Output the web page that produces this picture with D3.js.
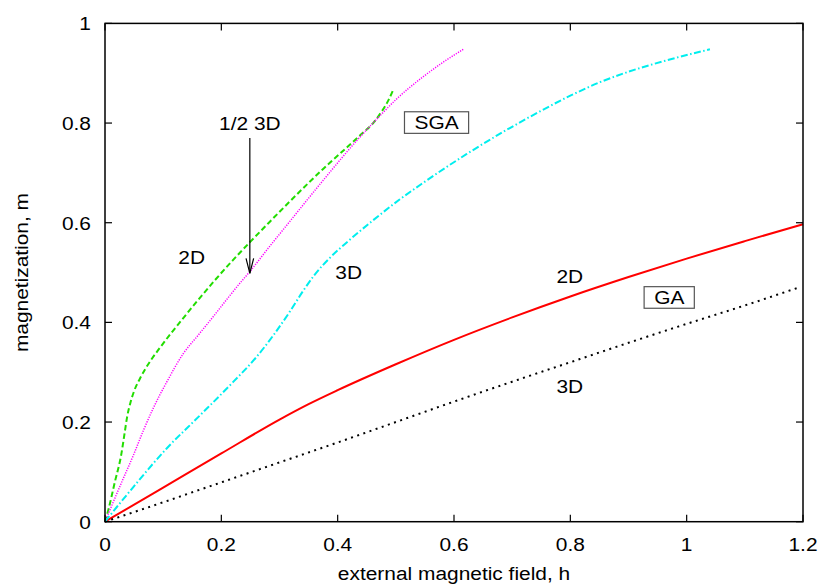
<!DOCTYPE html>
<html>
<head>
<meta charset="utf-8">
<script src="https://cdn.jsdelivr.net/npm/d3@7"></script>
<style>
  html, body { margin: 0; padding: 0; background: #fff; }
  svg { display: block; }
  text { font-family: "Liberation Sans", Arial, Helvetica, sans-serif; fill: #000; }
</style>
</head>
<body>
<svg id="chart" width="824" height="587"></svg>
<script>
// Magnetization curves m(h): [h, m] pairs
const gaTwoD = [[0,0],[0.1,0.0685],[0.2,0.137],[0.3,0.205],[0.35,0.236],[0.4,0.264],[0.5,0.316],[0.6,0.365],[0.7,0.410],[0.8,0.452],[0.9,0.491],[1.0,0.528],[1.1,0.563],[1.2,0.597]];
const gaThreeD = [[0,0],[0.1,0.039],[0.2,0.079],[0.3,0.119],[0.4,0.159],[0.5,0.200],[0.6,0.241],[0.7,0.281],[0.8,0.320],[0.9,0.359],[1.0,0.397],[1.1,0.434],[1.19,0.469]];
const sgaTwoD = [[0,0],[0.006,0.025],[0.017,0.08],[0.028,0.135],[0.034,0.18],[0.038,0.21],[0.044,0.24],[0.05,0.262],[0.06,0.287],[0.07,0.308],[0.08,0.326],[0.095,0.35],[0.11,0.373],[0.13,0.402],[0.158,0.442],[0.19,0.486],[0.22,0.525],[0.25,0.562],[0.28,0.598],[0.318,0.643],[0.35,0.68],[0.375,0.708],[0.41,0.745],[0.44,0.777],[0.461,0.80],[0.475,0.822],[0.486,0.843],[0.496,0.868]];
const sgaHalfThreeD = [[0,0],[0.009,0.025],[0.026,0.072],[0.049,0.134],[0.066,0.183],[0.083,0.228],[0.106,0.28],[0.135,0.338],[0.16,0.374],[0.185,0.41],[0.21,0.447],[0.23,0.476],[0.249,0.502],[0.28,0.548],[0.318,0.603],[0.375,0.685],[0.433,0.765],[0.473,0.815],[0.501,0.848],[0.547,0.893],[0.58,0.921],[0.616,0.948]];
const sgaThreeD = [[0,0],[0.02,0.029],[0.049,0.07],[0.106,0.147],[0.163,0.213],[0.22,0.28],[0.26,0.33],[0.29,0.375],[0.318,0.422],[0.34,0.462],[0.36,0.495],[0.387,0.53],[0.42,0.565],[0.461,0.605],[0.507,0.647],[0.547,0.68],[0.622,0.738],[0.696,0.79],[0.736,0.816],[0.8,0.855],[0.851,0.882],[0.9,0.903],[0.966,0.926],[1.04,0.948]];

const xTicks = [0, 0.2, 0.4, 0.6, 0.8, 1, 1.2];
const yTicks = [0, 0.2, 0.4, 0.6, 0.8, 1];
const xTitle = "external magnetic field, h";
const yTitle = "magnetization, m";

// Curve labels placed in data coordinates
const curveLabels = [
  { text: "1/2 3D", h: 0.249, m: 0.799 },
  { text: "2D", h: 0.149, m: 0.531 },
  { text: "3D", h: 0.419, m: 0.501 },
  { text: "2D", h: 0.799, m: 0.492 },
  { text: "3D", h: 0.799, m: 0.271 }
];
const boxedLabels = [
  { text: "SGA", h: 0.570, m: 0.801 },
  { text: "GA", h: 0.970, m: 0.450 }
];
const arrowFrom = [0.249, 0.770];
const arrowTo = [0.249, 0.4985];

const svg = d3.select("#chart");
const plotLeft = 105, plotRight = 803, plotTop = 23.4, plotBottom = 521.7;
const x = d3.scaleLinear().domain([0, 1.2]).range([plotLeft, plotRight]);
const y = d3.scaleLinear().domain([0, 1]).range([plotBottom, plotTop]);

const fs = 19, stretch = 1.1;
function label(g, txt, px, py, anchor, rotate) {
  return g.append("text")
    .attr("transform", `translate(${px},${py})` + (rotate ? " rotate(-90)" : "") + ` scale(${stretch},1)`)
    .attr("text-anchor", anchor)
    .style("font-size", fs + "px")
    .text(txt);
}

// Curves
const line = d3.line().x(d => x(d[0])).y(d => y(d[1])).curve(d3.curveMonotoneX);
const series = [
  { data: gaTwoD, color: "#ff0000", width: 2, dash: null },
  { data: gaThreeD, color: "#000000", width: 2, dash: "2,4.5" },
  { data: sgaTwoD, color: "#22dd00", width: 2, dash: "5.5,3" },
  { data: sgaHalfThreeD, color: "#ff00ff", width: 1.5, dash: "1.2,1.3" },
  { data: sgaThreeD, color: "#00eeee", width: 2, dash: "7,2.5,1.5,2.5" }
];
const curves = svg.append("g");
series.forEach(s => {
  curves.append("path")
    .datum(s.data)
    .attr("d", line)
    .attr("fill", "none")
    .attr("stroke", s.color)
    .attr("stroke-width", s.width)
    .attr("stroke-dasharray", s.dash);
});

// Frame with inward ticks on all four sides
const axes = svg.append("g");
const tickLen = 7;
xTicks.forEach(v => {
  axes.append("line").attr("x1", x(v)).attr("x2", x(v)).attr("y1", plotBottom).attr("y2", plotBottom - tickLen)
    .attr("stroke", "#000").attr("stroke-width", 1.2);
  axes.append("line").attr("x1", x(v)).attr("x2", x(v)).attr("y1", plotTop).attr("y2", plotTop + tickLen)
    .attr("stroke", "#000").attr("stroke-width", 1.2);
  label(axes, d3.format("~g")(v), x(v), plotBottom + 29, "middle");
});
yTicks.forEach(v => {
  axes.append("line").attr("x1", plotLeft).attr("x2", plotLeft + tickLen).attr("y1", y(v)).attr("y2", y(v))
    .attr("stroke", "#000").attr("stroke-width", 1.2);
  axes.append("line").attr("x1", plotRight).attr("x2", plotRight - tickLen).attr("y1", y(v)).attr("y2", y(v))
    .attr("stroke", "#000").attr("stroke-width", 1.2);
  label(axes, d3.format("~g")(v), plotLeft - 14, y(v) + 7, "end");
});
axes.append("rect")
  .attr("x", plotLeft).attr("y", plotTop).attr("width", plotRight - plotLeft).attr("height", plotBottom - plotTop)
  .attr("fill", "none").attr("stroke", "#000").attr("stroke-width", 1.5);

// Axis titles
label(axes, xTitle, (plotLeft + plotRight) / 2, 580, "middle");
label(axes, yTitle, 28, (plotTop + plotBottom) / 2, "middle", true);

// Curve annotations
const ann = svg.append("g");
curveLabels.forEach(d => label(ann, d.text, x(d.h), y(d.m) + 6.8, "middle"));
boxedLabels.forEach(d => {
  const t = label(ann, d.text, x(d.h), y(d.m) + 6.8, "middle");
  const w = t.node().getComputedTextLength() * stretch;
  ann.insert("rect", "text")
    .attr("x", x(d.h) - w / 2 - 10).attr("y", y(d.m) - 10.8)
    .attr("width", w + 20).attr("height", 21.6)
    .attr("fill", "#fff").attr("stroke", "#555").attr("stroke-width", 1.2);
});

// Arrow pointing at the 1/2 3D curve
const ax = x(arrowTo[0]), ay = y(arrowTo[1]);
ann.append("line")
  .attr("x1", x(arrowFrom[0])).attr("y1", y(arrowFrom[1]))
  .attr("x2", ax).attr("y2", ay)
  .attr("stroke", "#000").attr("stroke-width", 1.2);
ann.append("path")
  .attr("d", `M${ax - 3.8},${ay - 15}L${ax},${ay}L${ax + 3.8},${ay - 15}`)
  .attr("fill", "none").attr("stroke", "#000").attr("stroke-width", 1.2);
</script>
</body>
</html>
